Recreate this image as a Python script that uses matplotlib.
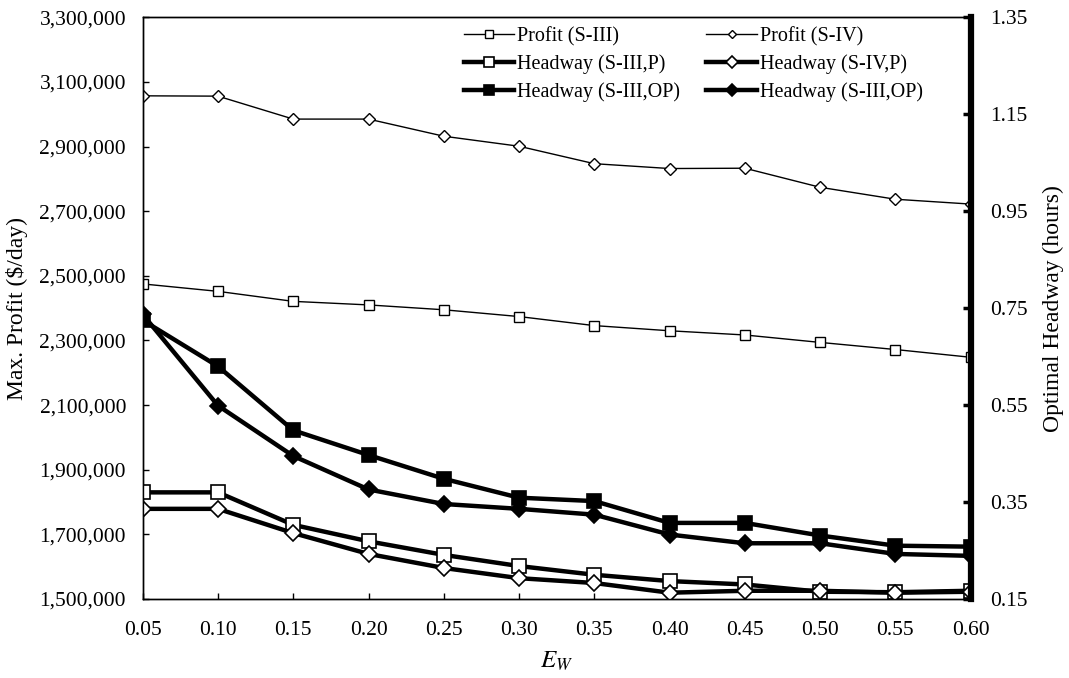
import numpy as np
import matplotlib
matplotlib.use("Agg")
import matplotlib.pyplot as plt
from matplotlib.ticker import FuncFormatter

plt.rcParams["font.family"] = ["Liberation Serif", "DejaVu Serif"]
plt.rcParams["mathtext.fontset"] = "stix"

ew = [0.05, 0.10, 0.15, 0.20, 0.25, 0.30, 0.35, 0.40, 0.45, 0.50, 0.55, 0.60]

# max profit ($/day), left axis
profit_s3 = [2475000, 2452000, 2421000, 2410000, 2395000, 2374000,
             2346000, 2330000, 2317000, 2294000, 2272000, 2248000]
profit_s4 = [3057000, 3056000, 2985000, 2985000, 2932000, 2901000,
             2847000, 2832000, 2833000, 2774000, 2737000, 2722000]

# optimal headway (hours), right axis
head_s3_p = [0.370, 0.370, 0.303, 0.269, 0.241, 0.218,
             0.200, 0.187, 0.180, 0.165, 0.164, 0.167]
head_s4_p = [0.336, 0.336, 0.286, 0.243, 0.214, 0.193,
             0.183, 0.163, 0.167, 0.167, 0.163, 0.165]
head_s3_op = [0.725, 0.630, 0.498, 0.447, 0.398, 0.359,
              0.352, 0.307, 0.307, 0.281, 0.260, 0.258]
head_s4_op = [0.737, 0.549, 0.445, 0.376, 0.346, 0.336,
              0.324, 0.283, 0.265, 0.265, 0.243, 0.239]

profit_ticks = np.arange(1500000, 3300001, 200000)
headway_ticks = np.arange(0.15, 1.36, 0.2)

fig = plt.figure(figsize=(10.69, 6.78), dpi=100)
ax = fig.add_axes([0.1335, 0.1165, 0.7745, 0.858])
ax2 = ax.twinx()

thin = dict(color="black", lw=1.0, markerfacecolor="white", markeredgecolor="black",
            markeredgewidth=1.0, markersize=7)
thick = dict(color="black", lw=3.2, markeredgecolor="black", markeredgewidth=1.2, markersize=10)

l1, = ax.plot(ew, profit_s3, marker="s", label="Profit (S-III)", **thin)
l2, = ax.plot(ew, profit_s4, marker="D", label="Profit (S-IV)",
              **{**thin, "markersize": 6})
l3, = ax2.plot(ew, head_s3_p, marker="s", markerfacecolor="white",
               label="Headway (S-III,P)", **thick)
l4, = ax2.plot(ew, head_s4_p, marker="D", markerfacecolor="white",
               label="Headway (S-IV,P)", **{**thick, "markersize": 8})
l5, = ax2.plot(ew, head_s3_op, marker="s", markerfacecolor="black",
               label="Headway (S-III,OP)", **thick)
l6, = ax2.plot(ew, head_s4_op, marker="D", markerfacecolor="black",
               label="Headway (S-III,OP)", **{**thick, "markersize": 8})

ax.set_xlim(0.05, 0.60)
ax.set_ylim(1500000, 3300000)
ax2.set_ylim(0.15, 1.35)
ax.set_xticks(ew)
ax.xaxis.set_major_formatter(FuncFormatter(lambda v, p: f"{v:.2f}"))
ax.set_yticks(profit_ticks)
ax.yaxis.set_major_formatter(FuncFormatter(lambda v, p: f"{v:,.0f}"))
ax2.set_yticks(headway_ticks)
ax2.yaxis.set_major_formatter(FuncFormatter(lambda v, p: f"{v:.2f}"))

for a in (ax, ax2):
    a.tick_params(direction="in", length=4, width=1, labelsize=15.5)
    for s in a.spines.values():
        s.set_linewidth(1.0)
ax.tick_params(axis="y", pad=12)
ax.tick_params(axis="x", pad=16)
ax2.spines["right"].set_linewidth(4.5)
ax2.tick_params(axis="y", length=6, width=2.5, pad=14)

ax.set_ylabel("Max. Profit ($/day)", fontsize=17, labelpad=8)
ax2.set_ylabel("Optimal Headway (hours)", fontsize=17, labelpad=11)
ax.set_xlabel(r"$E_W$", fontsize=18, labelpad=7)

handles = [l1, l3, l5, l2, l4, l6]
ax2.legend(handles=handles, labels=[h.get_label() for h in handles], ncol=2,
           loc="upper left", bbox_to_anchor=(0.366, 1.015), frameon=False,
           fontsize=14.5, handlelength=2.5, handletextpad=0.15, columnspacing=1.3,
           labelspacing=0.42, markerscale=0.75)

fig.savefig("out.png", dpi=100)
